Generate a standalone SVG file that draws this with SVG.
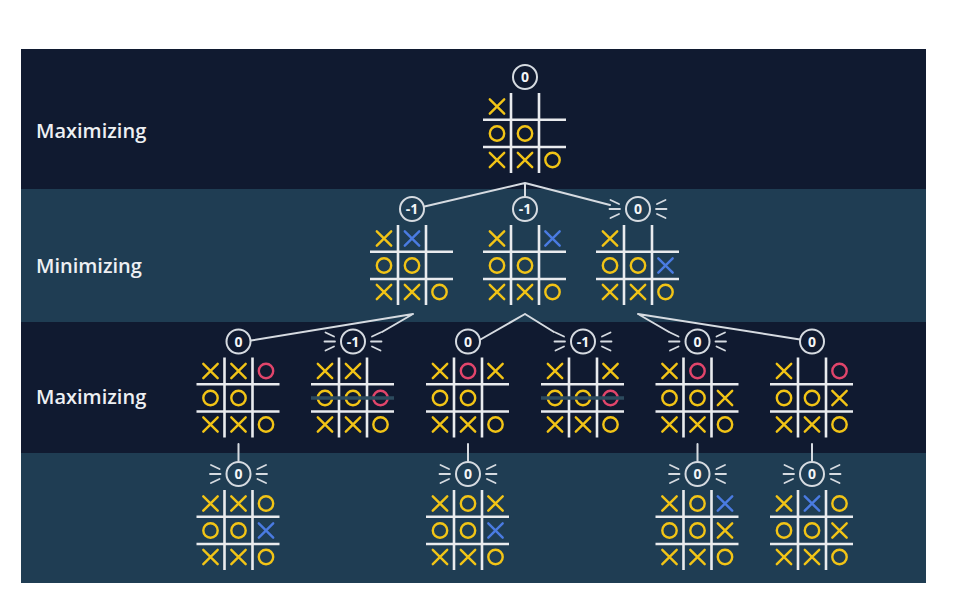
<svg xmlns="http://www.w3.org/2000/svg" xmlns:xlink="http://www.w3.org/1999/xlink" width="961" height="595" viewBox="0 0 961 595">
<style>
.grid{fill:none;stroke:#e9ebee;stroke-width:2.6;stroke-linecap:butt}
.y{fill:none;stroke:#f2c416;stroke-width:2.4;stroke-linecap:round}
.b{fill:none;stroke:#4a7be2;stroke-width:2.4;stroke-linecap:round}
.r{fill:none;stroke:#e1456b;stroke-width:2.4}
.badge{fill:none;stroke:#d6dbe1;stroke-width:2}
.rays{fill:none;stroke:#d6dbe1;stroke-width:1.8;stroke-linecap:round}
.val{font-family:"Open Sans","Liberation Sans",sans-serif;font-weight:700;font-size:14px;fill:#f4f5f7;text-anchor:middle}
.lbl{font-family:"Open Sans","Liberation Sans",sans-serif;font-weight:600;font-size:20px;fill:#eef0f3}
.conn{fill:none;stroke:#d6dbe1;stroke-width:2;stroke-linecap:round}
.win{stroke:#2c4b5e;stroke-width:3.5}
</style>
<defs>
<path id="mx" d="M-7.2,-7.2L7.2,7.2M7.2,-7.2L-7.2,7.2"/>
<circle id="mo" r="7.2"/>
<path id="grid" d="M28,0V80M56,0V80M0,26.7H83M0,54H83"/>
<path id="rays" d="M-27.5,-9L-19,-5M-28.5,0H-18M-27.5,9L-19,5M27.5,-9L19,-5M28.5,0H18M27.5,9L19,5"/>
</defs>
<rect x="21" y="49" width="905" height="140" fill="#101a30"/>
<rect x="21" y="189" width="905" height="133" fill="#1f3d53"/>
<rect x="21" y="322" width="905" height="131" fill="#101a30"/>
<rect x="21" y="453" width="905" height="130" fill="#1f3d53"/>
<text class="lbl" x="36" y="138">Maximizing</text>
<text class="lbl" x="36" y="273">Minimizing</text>
<text class="lbl" x="36" y="404">Maximizing</text>
<g id="connectors">
<path class="conn" d="M525,183L424.5,206.5M525,183V196.5M525,183L610,205"/>
<path class="conn" d="M413,314L251,340.5M413,314L382,332M525,314L480.5,339.5M525,314L554,332M638,314L669,332M638,314L800,339.5"/>
<path class="conn" d="M238.5,444V461M468,444V461M697.5,444V461M812,444V461"/>
</g>
<g id="root" transform="translate(483,93)">
<circle class="badge" cx="42" cy="-16" r="12"/><text class="val" x="42" y="-11">0</text>
<use href="#grid" class="grid"/>
<use href="#mx" class="y" x="14" y="13.5"/>
<use href="#mo" class="y" x="14" y="40.5"/><use href="#mo" class="y" x="42" y="40.5"/>
<use href="#mx" class="y" x="14" y="67"/><use href="#mx" class="y" x="42" y="67"/><use href="#mo" class="y" x="69.5" y="67"/>
</g>
<g id="min1" transform="translate(370,225)">
<circle class="badge" cx="42" cy="-16" r="12"/><text class="val" x="42" y="-11">-1</text>
<use href="#grid" class="grid"/>
<use href="#mx" class="y" x="14" y="13.5"/><use href="#mx" class="b" x="42" y="13.5"/>
<use href="#mo" class="y" x="14" y="40.5"/><use href="#mo" class="y" x="42" y="40.5"/>
<use href="#mx" class="y" x="14" y="67"/><use href="#mx" class="y" x="42" y="67"/><use href="#mo" class="y" x="69.5" y="67"/>
</g>
<g id="min2" transform="translate(483,225)">
<circle class="badge" cx="42" cy="-16" r="12"/><text class="val" x="42" y="-11">-1</text>
<use href="#grid" class="grid"/>
<use href="#mx" class="y" x="14" y="13.5"/><use href="#mx" class="b" x="69.5" y="13.5"/>
<use href="#mo" class="y" x="14" y="40.5"/><use href="#mo" class="y" x="42" y="40.5"/>
<use href="#mx" class="y" x="14" y="67"/><use href="#mx" class="y" x="42" y="67"/><use href="#mo" class="y" x="69.5" y="67"/>
</g>
<g id="min3" transform="translate(596,225)">
<use href="#rays" class="rays" x="42" y="-16"/>
<circle class="badge" cx="42" cy="-16" r="12"/><text class="val" x="42" y="-11">0</text>
<use href="#grid" class="grid"/>
<use href="#mx" class="y" x="14" y="13.5"/>
<use href="#mo" class="y" x="14" y="40.5"/><use href="#mo" class="y" x="42" y="40.5"/><use href="#mx" class="b" x="69.5" y="40.5"/>
<use href="#mx" class="y" x="14" y="67"/><use href="#mx" class="y" x="42" y="67"/><use href="#mo" class="y" x="69.5" y="67"/>
</g>
<g id="max1" transform="translate(196.5,357.5)">
<circle class="badge" cx="42" cy="-16" r="12"/><text class="val" x="42" y="-11">0</text>
<use href="#grid" class="grid"/>
<use href="#mx" class="y" x="14" y="13.5"/><use href="#mx" class="y" x="42" y="13.5"/><use href="#mo" class="r" x="69.5" y="13.5"/>
<use href="#mo" class="y" x="14" y="40.5"/><use href="#mo" class="y" x="42" y="40.5"/>
<use href="#mx" class="y" x="14" y="67"/><use href="#mx" class="y" x="42" y="67"/><use href="#mo" class="y" x="69.5" y="67"/>
</g>
<g id="max2" transform="translate(311,357.5)">
<use href="#rays" class="rays" x="42" y="-16"/>
<circle class="badge" cx="42" cy="-16" r="12"/><text class="val" x="42" y="-11">-1</text>
<use href="#grid" class="grid"/>
<use href="#mx" class="y" x="14" y="13.5"/><use href="#mx" class="y" x="42" y="13.5"/>
<use href="#mo" class="y" x="14" y="40.5"/><use href="#mo" class="y" x="42" y="40.5"/><use href="#mo" class="r" x="69.5" y="40.5"/>
<line class="win" x1="0" y1="40.5" x2="83" y2="40.5"/>
<use href="#mx" class="y" x="14" y="67"/><use href="#mx" class="y" x="42" y="67"/><use href="#mo" class="y" x="69.5" y="67"/>
</g>
<g id="max3" transform="translate(426,357.5)">
<circle class="badge" cx="42" cy="-16" r="12"/><text class="val" x="42" y="-11">0</text>
<use href="#grid" class="grid"/>
<use href="#mx" class="y" x="14" y="13.5"/><use href="#mo" class="r" x="42" y="13.5"/><use href="#mx" class="y" x="69.5" y="13.5"/>
<use href="#mo" class="y" x="14" y="40.5"/><use href="#mo" class="y" x="42" y="40.5"/>
<use href="#mx" class="y" x="14" y="67"/><use href="#mx" class="y" x="42" y="67"/><use href="#mo" class="y" x="69.5" y="67"/>
</g>
<g id="max4" transform="translate(541,357.5)">
<use href="#rays" class="rays" x="42" y="-16"/>
<circle class="badge" cx="42" cy="-16" r="12"/><text class="val" x="42" y="-11">-1</text>
<use href="#grid" class="grid"/>
<use href="#mx" class="y" x="14" y="13.5"/><use href="#mx" class="y" x="69.5" y="13.5"/>
<use href="#mo" class="y" x="14" y="40.5"/><use href="#mo" class="y" x="42" y="40.5"/><use href="#mo" class="r" x="69.5" y="40.5"/>
<line class="win" x1="0" y1="40.5" x2="83" y2="40.5"/>
<use href="#mx" class="y" x="14" y="67"/><use href="#mx" class="y" x="42" y="67"/><use href="#mo" class="y" x="69.5" y="67"/>
</g>
<g id="max5" transform="translate(655.5,357.5)">
<use href="#rays" class="rays" x="42" y="-16"/>
<circle class="badge" cx="42" cy="-16" r="12"/><text class="val" x="42" y="-11">0</text>
<use href="#grid" class="grid"/>
<use href="#mx" class="y" x="14" y="13.5"/><use href="#mo" class="r" x="42" y="13.5"/>
<use href="#mo" class="y" x="14" y="40.5"/><use href="#mo" class="y" x="42" y="40.5"/><use href="#mx" class="y" x="69.5" y="40.5"/>
<use href="#mx" class="y" x="14" y="67"/><use href="#mx" class="y" x="42" y="67"/><use href="#mo" class="y" x="69.5" y="67"/>
</g>
<g id="max6" transform="translate(770,357.5)">
<circle class="badge" cx="42" cy="-16" r="12"/><text class="val" x="42" y="-11">0</text>
<use href="#grid" class="grid"/>
<use href="#mx" class="y" x="14" y="13.5"/><use href="#mo" class="r" x="69.5" y="13.5"/>
<use href="#mo" class="y" x="14" y="40.5"/><use href="#mo" class="y" x="42" y="40.5"/><use href="#mx" class="y" x="69.5" y="40.5"/>
<use href="#mx" class="y" x="14" y="67"/><use href="#mx" class="y" x="42" y="67"/><use href="#mo" class="y" x="69.5" y="67"/>
</g>
<g id="leaf1" transform="translate(196.5,490)">
<use href="#rays" class="rays" x="42" y="-16"/>
<circle class="badge" cx="42" cy="-16" r="12"/><text class="val" x="42" y="-11">0</text>
<use href="#grid" class="grid"/>
<use href="#mx" class="y" x="14" y="13.5"/><use href="#mx" class="y" x="42" y="13.5"/><use href="#mo" class="y" x="69.5" y="13.5"/>
<use href="#mo" class="y" x="14" y="40.5"/><use href="#mo" class="y" x="42" y="40.5"/><use href="#mx" class="b" x="69.5" y="40.5"/>
<use href="#mx" class="y" x="14" y="67"/><use href="#mx" class="y" x="42" y="67"/><use href="#mo" class="y" x="69.5" y="67"/>
</g>
<g id="leaf2" transform="translate(426,490)">
<use href="#rays" class="rays" x="42" y="-16"/>
<circle class="badge" cx="42" cy="-16" r="12"/><text class="val" x="42" y="-11">0</text>
<use href="#grid" class="grid"/>
<use href="#mx" class="y" x="14" y="13.5"/><use href="#mo" class="y" x="42" y="13.5"/><use href="#mx" class="y" x="69.5" y="13.5"/>
<use href="#mo" class="y" x="14" y="40.5"/><use href="#mo" class="y" x="42" y="40.5"/><use href="#mx" class="b" x="69.5" y="40.5"/>
<use href="#mx" class="y" x="14" y="67"/><use href="#mx" class="y" x="42" y="67"/><use href="#mo" class="y" x="69.5" y="67"/>
</g>
<g id="leaf3" transform="translate(655.5,490)">
<use href="#rays" class="rays" x="42" y="-16"/>
<circle class="badge" cx="42" cy="-16" r="12"/><text class="val" x="42" y="-11">0</text>
<use href="#grid" class="grid"/>
<use href="#mx" class="y" x="14" y="13.5"/><use href="#mo" class="y" x="42" y="13.5"/><use href="#mx" class="b" x="69.5" y="13.5"/>
<use href="#mo" class="y" x="14" y="40.5"/><use href="#mo" class="y" x="42" y="40.5"/><use href="#mx" class="y" x="69.5" y="40.5"/>
<use href="#mx" class="y" x="14" y="67"/><use href="#mx" class="y" x="42" y="67"/><use href="#mo" class="y" x="69.5" y="67"/>
</g>
<g id="leaf4" transform="translate(770,490)">
<use href="#rays" class="rays" x="42" y="-16"/>
<circle class="badge" cx="42" cy="-16" r="12"/><text class="val" x="42" y="-11">0</text>
<use href="#grid" class="grid"/>
<use href="#mx" class="y" x="14" y="13.5"/><use href="#mx" class="b" x="42" y="13.5"/><use href="#mo" class="y" x="69.5" y="13.5"/>
<use href="#mo" class="y" x="14" y="40.5"/><use href="#mo" class="y" x="42" y="40.5"/><use href="#mx" class="y" x="69.5" y="40.5"/>
<use href="#mx" class="y" x="14" y="67"/><use href="#mx" class="y" x="42" y="67"/><use href="#mo" class="y" x="69.5" y="67"/>
</g>
</svg>
